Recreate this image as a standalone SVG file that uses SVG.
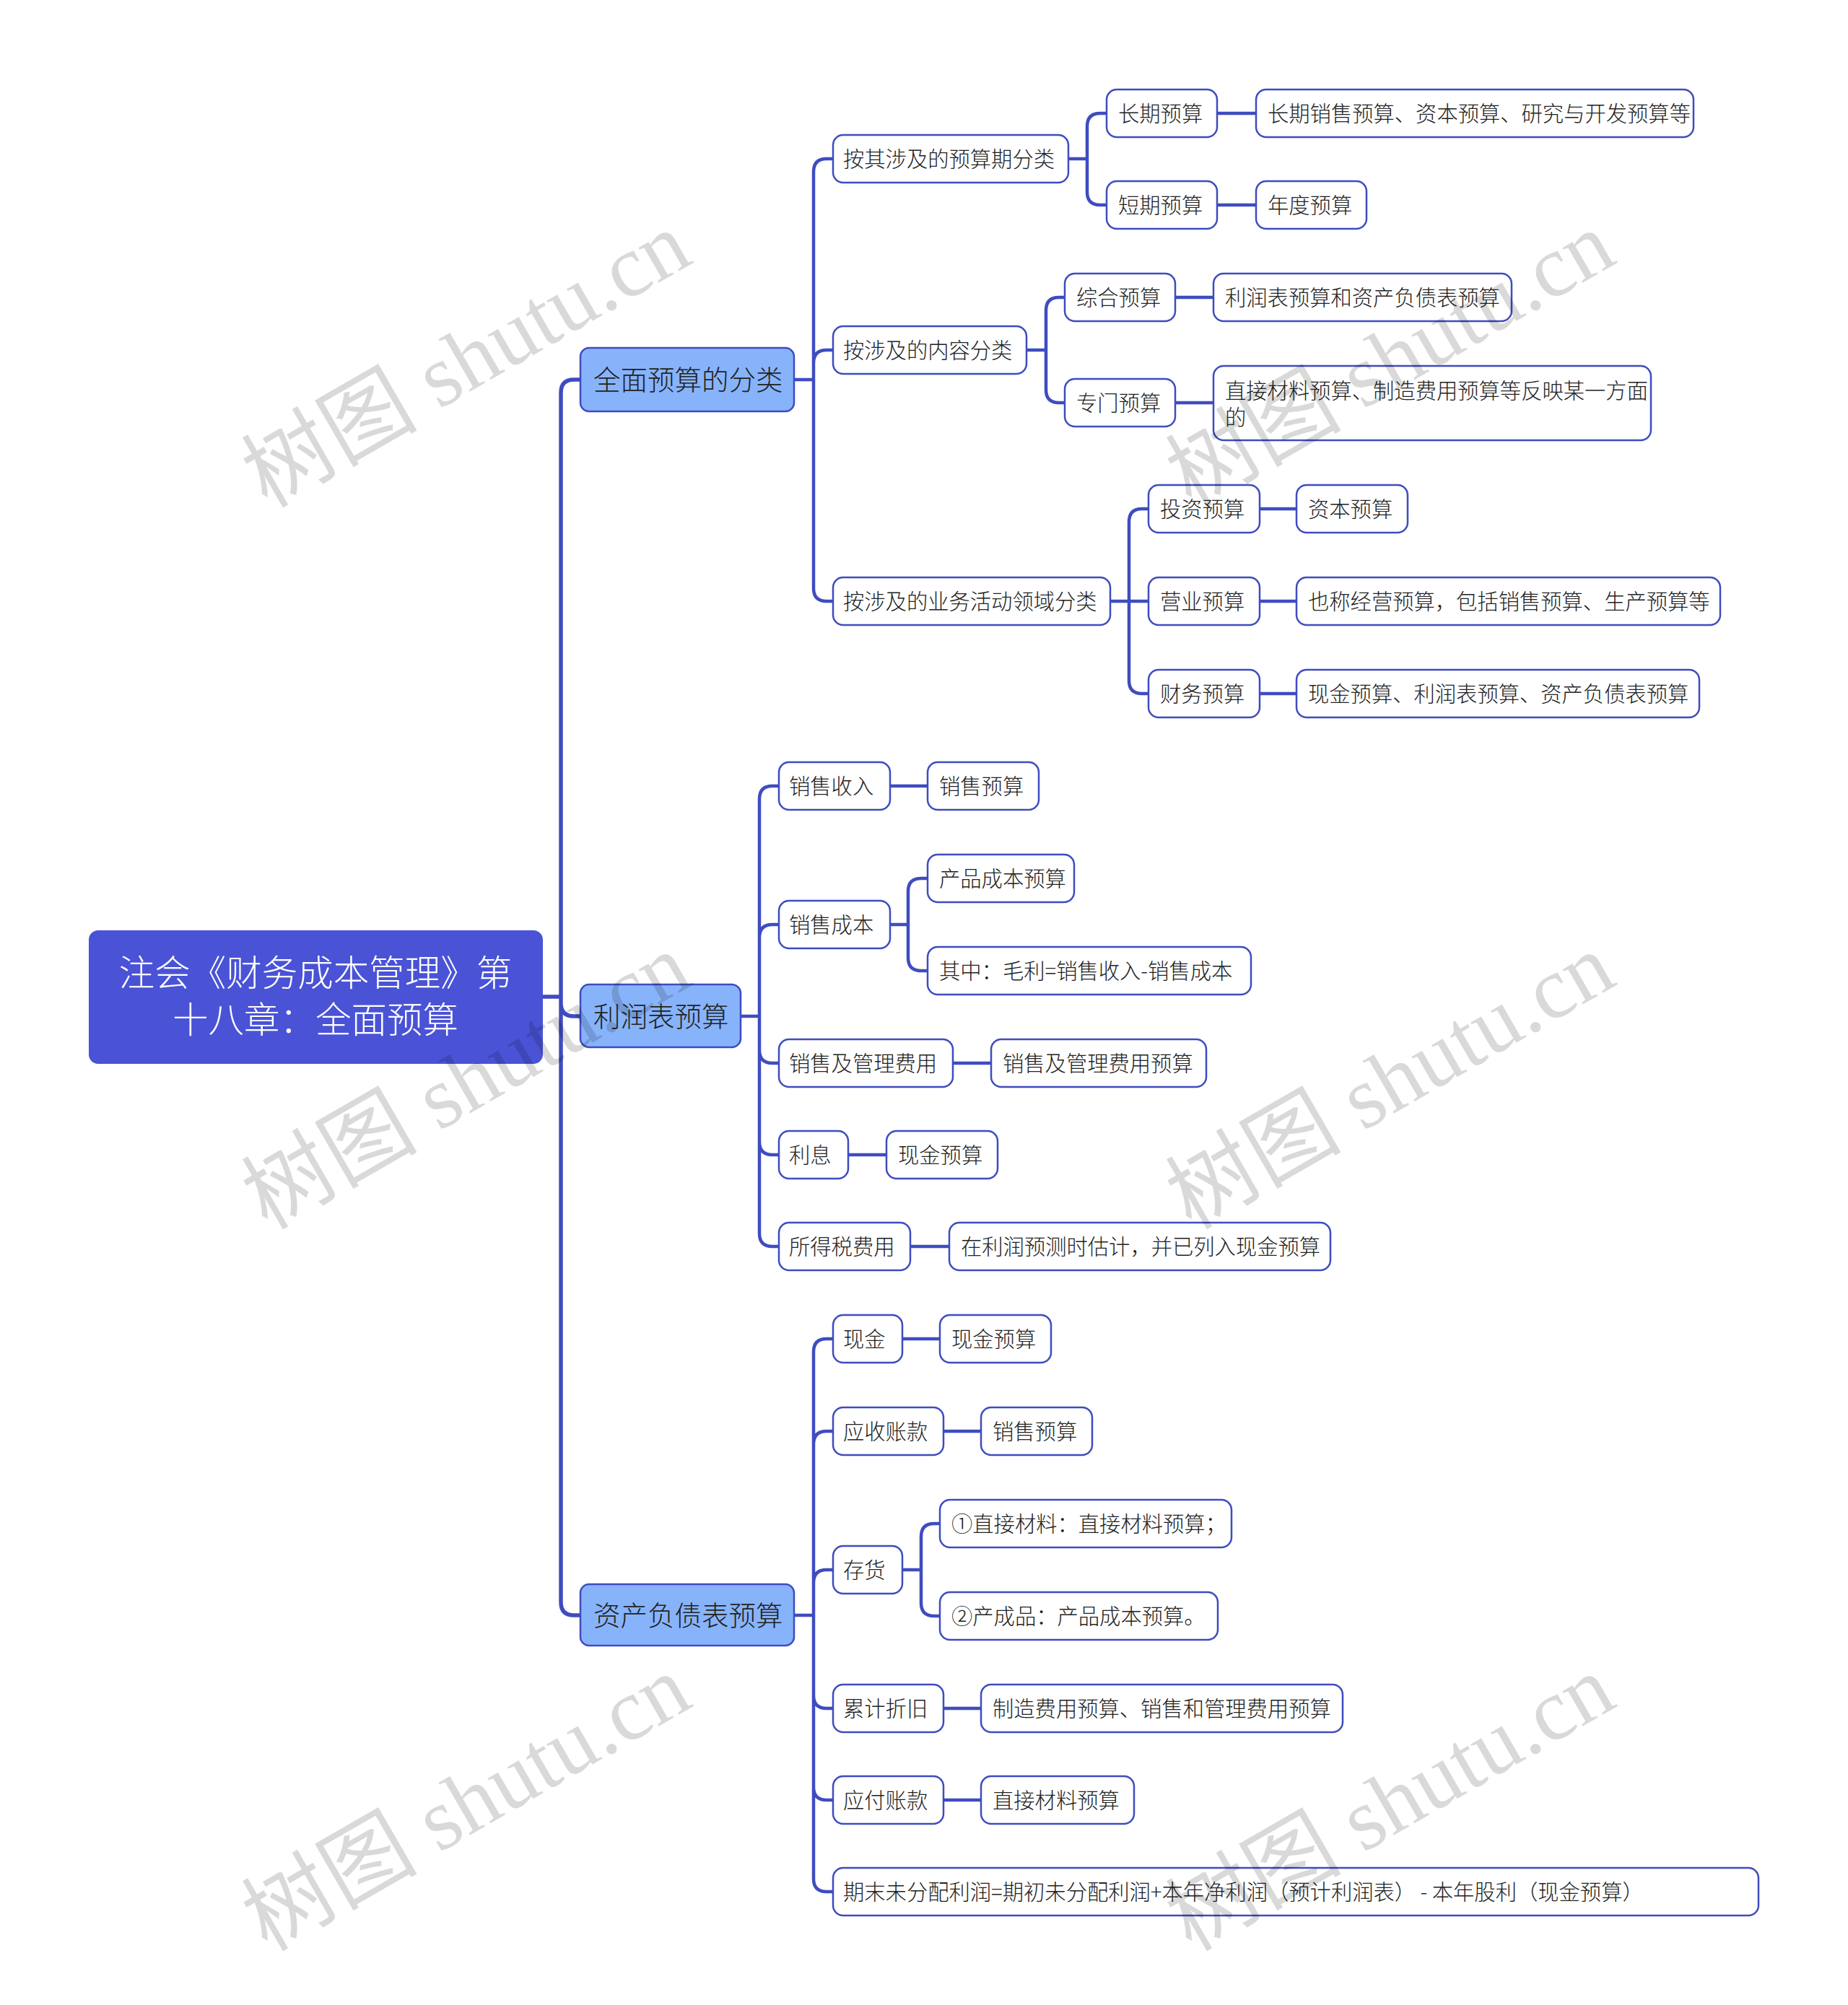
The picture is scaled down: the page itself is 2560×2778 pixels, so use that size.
<svg xmlns="http://www.w3.org/2000/svg" width="2560" height="2778" viewBox="0 0 2560 2778">
<style>
text{font-family:"Noto Sans CJK SC","Liberation Sans",sans-serif;font-weight:300;fill:#222}
.n rect{fill:#fff;stroke:#3f4cc0;stroke-width:2.5}
.n text{font-size:29.3px}
.l rect{fill:#87b3fb;stroke:#3f4cc0;stroke-width:2.5}
.l text{font-size:37.5px}
.r rect{fill:#4a53d6;stroke:#4a53d6;stroke-width:2}
.r text{font-size:49.5px;fill:#fff;text-anchor:middle}
.c path{fill:none;stroke:#3f4cc0;stroke-width:4.5}
.c .m{stroke-width:5.5}
.w text{font-family:"Liberation Serif","Noto Sans CJK SC",serif;font-size:122px;fill:#000;fill-opacity:.15;font-weight:400}
</style>
<rect width="2560" height="2778" fill="#fff"/>
<g id="connectors" class="c">
<path class="m" d="M751 1381H777M804 526H795Q777 526 777 544V2220Q777 2238 795 2238H804M777 1390Q777 1408 795 1408H804"/>
<path d="M1100 526H1127M1154 220H1145Q1127 220 1127 238V815Q1127 833 1145 833H1154M1127 503Q1127 485 1145 485H1154"/>
<path d="M1480 220H1506M1533 157H1524Q1506 157 1506 175V266Q1506 284 1524 284H1533"/>
<path d="M1686 157H1740M1686 284H1740"/>
<path d="M1422 485H1449M1475 412H1467Q1449 412 1449 430V540Q1449 558 1467 558H1475"/>
<path d="M1628 412H1681M1628 558H1681"/>
<path d="M1538 833H1564M1591 705H1582Q1564 705 1564 723V943Q1564 961 1582 961H1591M1564 833H1591"/>
<path d="M1745 705H1796M1745 833H1796M1745 961H1796"/>
<path d="M1026 1408H1052M1079 1089H1070Q1052 1089 1052 1107V1709Q1052 1727 1070 1727H1079M1052 1299Q1052 1281 1070 1281H1079M1052 1455Q1052 1473 1070 1473H1079M1052 1582Q1052 1600 1070 1600H1079"/>
<path d="M1233 1089H1285M1320 1473H1373M1175 1600H1228M1261 1727H1315"/>
<path d="M1233 1281H1258M1285 1217H1276Q1258 1217 1258 1235V1327Q1258 1345 1276 1345H1285"/>
<path d="M1100 2238H1127M1154 1855H1145Q1127 1855 1127 1873V2603Q1127 2621 1145 2621H1154M1127 2001Q1127 1983 1145 1983H1154M1127 2193Q1127 2175 1145 2175H1154M1127 2349Q1127 2367 1145 2367H1154M1127 2476Q1127 2494 1145 2494H1154"/>
<path d="M1250 1855H1302M1307 1983H1359M1307 2367H1359M1307 2494H1359"/>
<path d="M1250 2175H1276M1302 2111H1294Q1276 2111 1276 2129V2221Q1276 2239 1294 2239H1302"/>
</g>
<g id="root" class="r"><rect x="124" y="1290" width="627" height="183" rx="12"/><text x="437" y="1366">注会《财务成本管理》第</text><text x="437" y="1431">十八章：全面预算</text></g>
<g id="l1a" class="l"><rect x="804" y="482" width="296" height="88" rx="12"/><text x="822" y="540">全面预算的分类</text></g>
<g id="l1b" class="l"><rect x="804" y="1364" width="222" height="87" rx="12"/><text x="822" y="1422">利润表预算</text></g>
<g id="l1c" class="l"><rect x="804" y="2195" width="296" height="85" rx="12"/><text x="822" y="2252">资产负债表预算</text></g>
<g id="n1" class="n"><rect x="1154" y="187" width="326" height="66" rx="14"/><text x="1168" y="231">按其涉及的预算期分类</text></g>
<g id="n2" class="n"><rect x="1533" y="124" width="153" height="66" rx="14"/><text x="1549" y="168">长期预算</text></g>
<g id="n3" class="n"><rect x="1740" y="124" width="606" height="66" rx="14"/><text x="1756" y="168">长期销售预算、资本预算、研究与开发预算等</text></g>
<g id="n4" class="n"><rect x="1533" y="251" width="153" height="66" rx="14"/><text x="1549" y="295">短期预算</text></g>
<g id="n5" class="n"><rect x="1740" y="251" width="153" height="66" rx="14"/><text x="1756" y="295">年度预算</text></g>
<g id="n6" class="n"><rect x="1154" y="452" width="268" height="66" rx="14"/><text x="1168" y="496">按涉及的内容分类</text></g>
<g id="n7" class="n"><rect x="1475" y="379" width="153" height="66" rx="14"/><text x="1491" y="423">综合预算</text></g>
<g id="n8" class="n"><rect x="1681" y="379" width="413" height="66" rx="14"/><text x="1697" y="423">利润表预算和资产负债表预算</text></g>
<g id="n9" class="n"><rect x="1475" y="525" width="153" height="66" rx="14"/><text x="1491" y="569">专门预算</text></g>
<g id="n10" class="n"><rect x="1681" y="507" width="606" height="103" rx="14"/><text x="1697" y="552">直接材料预算、制造费用预算等反映某一方面</text><text x="1697" y="589">的</text></g>
<g id="n11" class="n"><rect x="1154" y="800" width="384" height="66" rx="14"/><text x="1168" y="844">按涉及的业务活动领域分类</text></g>
<g id="n12" class="n"><rect x="1591" y="672" width="154" height="66" rx="14"/><text x="1607" y="716">投资预算</text></g>
<g id="n13" class="n"><rect x="1796" y="672" width="154" height="66" rx="14"/><text x="1812" y="716">资本预算</text></g>
<g id="n14" class="n"><rect x="1591" y="800" width="154" height="66" rx="14"/><text x="1607" y="844">营业预算</text></g>
<g id="n15" class="n"><rect x="1796" y="800" width="587" height="66" rx="14"/><text x="1812" y="844">也称经营预算，包括销售预算、生产预算等</text></g>
<g id="n16" class="n"><rect x="1591" y="928" width="154" height="66" rx="14"/><text x="1607" y="972">财务预算</text></g>
<g id="n17" class="n"><rect x="1796" y="928" width="558" height="66" rx="14"/><text x="1812" y="972">现金预算、利润表预算、资产负债表预算</text></g>
<g id="n18" class="n"><rect x="1079" y="1056" width="154" height="66" rx="14"/><text x="1093" y="1100">销售收入</text></g>
<g id="n19" class="n"><rect x="1285" y="1056" width="154" height="66" rx="14"/><text x="1301" y="1100">销售预算</text></g>
<g id="n20" class="n"><rect x="1079" y="1248" width="154" height="66" rx="14"/><text x="1093" y="1292">销售成本</text></g>
<g id="n21" class="n"><rect x="1285" y="1184" width="203" height="66" rx="14"/><text x="1301" y="1228">产品成本预算</text></g>
<g id="n22" class="n"><rect x="1285" y="1312" width="448" height="66" rx="14"/><text x="1301" y="1356">其中：毛利=销售收入-销售成本</text></g>
<g id="n23" class="n"><rect x="1079" y="1440" width="241" height="66" rx="14"/><text x="1093" y="1484">销售及管理费用</text></g>
<g id="n24" class="n"><rect x="1373" y="1440" width="298" height="66" rx="14"/><text x="1389" y="1484">销售及管理费用预算</text></g>
<g id="n25" class="n"><rect x="1079" y="1567" width="96" height="66" rx="14"/><text x="1093" y="1611">利息</text></g>
<g id="n26" class="n"><rect x="1228" y="1567" width="154" height="66" rx="14"/><text x="1244" y="1611">现金预算</text></g>
<g id="n27" class="n"><rect x="1079" y="1694" width="182" height="66" rx="14"/><text x="1093" y="1738">所得税费用</text></g>
<g id="n28" class="n"><rect x="1315" y="1694" width="528" height="66" rx="14"/><text x="1331" y="1738">在利润预测时估计，并已列入现金预算</text></g>
<g id="n29" class="n"><rect x="1154" y="1822" width="96" height="66" rx="14"/><text x="1168" y="1866">现金</text></g>
<g id="n30" class="n"><rect x="1302" y="1822" width="154" height="66" rx="14"/><text x="1318" y="1866">现金预算</text></g>
<g id="n31" class="n"><rect x="1154" y="1950" width="153" height="66" rx="14"/><text x="1168" y="1994">应收账款</text></g>
<g id="n32" class="n"><rect x="1359" y="1950" width="154" height="66" rx="14"/><text x="1375" y="1994">销售预算</text></g>
<g id="n33" class="n"><rect x="1154" y="2142" width="96" height="66" rx="14"/><text x="1168" y="2186">存货</text></g>
<g id="n34" class="n"><rect x="1302" y="2078" width="404" height="66" rx="14"/><text x="1318" y="2122">①直接材料：直接材料预算；</text></g>
<g id="n35" class="n"><rect x="1302" y="2206" width="385" height="66" rx="14"/><text x="1318" y="2250">②产成品：产品成本预算。</text></g>
<g id="n36" class="n"><rect x="1154" y="2334" width="153" height="66" rx="14"/><text x="1168" y="2378">累计折旧</text></g>
<g id="n37" class="n"><rect x="1359" y="2334" width="501" height="66" rx="14"/><text x="1375" y="2378">制造费用预算、销售和管理费用预算</text></g>
<g id="n38" class="n"><rect x="1154" y="2461" width="153" height="66" rx="14"/><text x="1168" y="2505">应付账款</text></g>
<g id="n39" class="n"><rect x="1359" y="2461" width="212" height="66" rx="14"/><text x="1375" y="2505">直接材料预算</text></g>
<g id="n40" class="n"><rect x="1154" y="2588" width="1282" height="66" rx="14"/><text x="1168" y="2632">期末未分配利润=期初未分配利润+本年净利润（预计利润表） - 本年股利（现金预算）</text></g>
<g id="watermark" class="w">
<text transform="translate(370 705) rotate(-30)">树图 shutu.cn</text>
<text transform="translate(1650 705) rotate(-30)">树图 shutu.cn</text>
<text transform="translate(370 1705) rotate(-30)">树图 shutu.cn</text>
<text transform="translate(1650 1705) rotate(-30)">树图 shutu.cn</text>
<text transform="translate(370 2705) rotate(-30)">树图 shutu.cn</text>
<text transform="translate(1650 2705) rotate(-30)">树图 shutu.cn</text>
</g>
</svg>
